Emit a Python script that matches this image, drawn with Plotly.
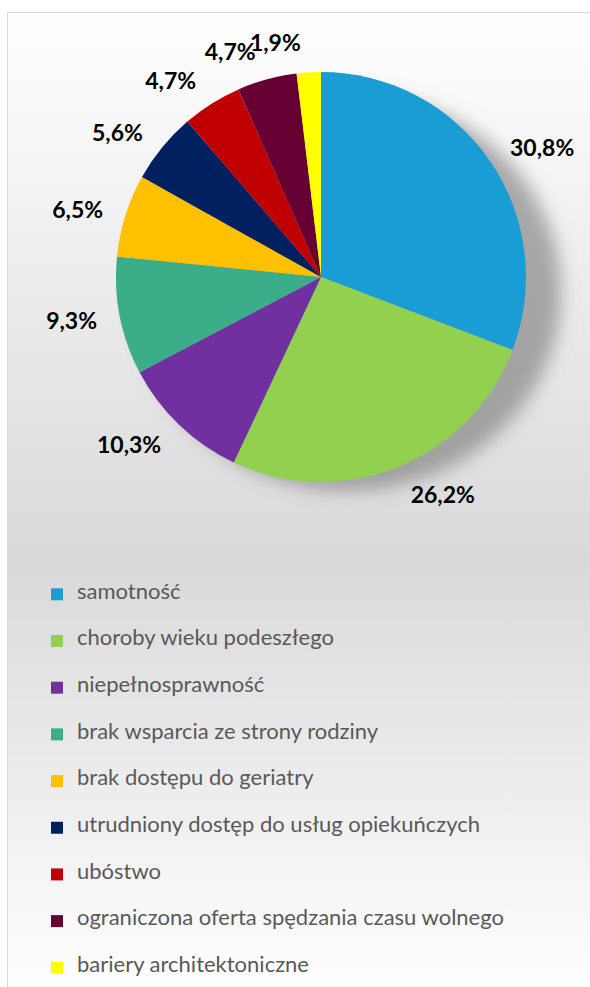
import base64
import plotly.graph_objects as go

# data (share of answers, %)
labels = ["samotność", "choroby wieku podeszłego", "niepełnosprawność",
          "brak wsparcia ze strony rodziny", "brak dostępu do geriatry",
          "utrudniony dostęp do usług opiekuńczych", "ubóstwo",
          "ograniczona oferta spędzania czasu wolnego", "bariery architektoniczne"]
values = [30.8, 26.2, 10.3, 9.3, 6.5, 5.6, 4.7, 4.7, 1.9]
colors = ["#1A9DD4", "#92D050", "#7030A0", "#3CAD89", "#FFC000",
          "#002060", "#C00000", "#660033", "#FFFF00"]

W, H = 590, 987
cx, cy, r = 321, 277, 205   # pie centre / radius in px
r_lab = r + 16              # radius of the invisible pies carrying the labels

# % labels are split over a few invisible pies so plotly does not stack
# the small top slices' labels on each other (and draw leader lines)
label_groups = [[0, 1, 2, 3, 4, 5, 7], [6, 8]]
pct = [f"{v:.1f}%".replace(".", ",") for v in values]

# legend entries: empty line above and below to open up the row spacing
leg_labels = ['<br><span style="font-size:22px">%s</span><br>' % l for l in labels]

# chart-area background: grey gradient, thin frame and soft pie shadow
fx, fy = 7, 12
svg = f'''<svg xmlns="http://www.w3.org/2000/svg" width="{W-fx}" height="{H-fy}">
<defs>
<linearGradient id="g" x1="0" y1="0" x2="0" y2="1">
<stop offset="0" stop-color="#ffffff"/>
<stop offset="0.56" stop-color="#d9d9d9"/>
<stop offset="1" stop-color="#ffffff"/>
</linearGradient>
<filter id="b" x="-50%" y="-50%" width="200%" height="200%"><feGaussianBlur stdDeviation="9"/></filter>
</defs>
<rect x="0" y="0" width="{W-fx+5}" height="{H-fy+5}" fill="url(#g)" stroke="#d9d9d9" stroke-width="2"/>
<ellipse cx="{cx-fx+27}" cy="{cy-fy+15}" rx="{r+8}" ry="{r-6}" fill="#777777" fill-opacity="0.6" filter="url(#b)"/>
</svg>'''
bg = "data:image/svg+xml;base64," + base64.b64encode(svg.encode("utf-8")).decode()


def dom(rad):
    return dict(x=[(cx - rad) / W, (cx + rad) / W],
                y=[1 - (cy + rad) / H, 1 - (cy - rad) / H])


fig = go.Figure()
fig.add_trace(go.Pie(
    labels=leg_labels,
    values=values,
    sort=False,
    direction="clockwise",
    rotation=0,
    marker=dict(colors=colors, line=dict(width=0)),
    textinfo="none",
    hovertemplate="%{value:.1f}%<extra></extra>",
    domain=dom(r),
))
for grp in label_groups:
    fig.add_trace(go.Pie(
        labels=labels,
        values=values,
        sort=False,
        direction="clockwise",
        rotation=0,
        marker=dict(colors=["rgba(0,0,0,0)"] * len(values), line=dict(width=0)),
        text=[pct[i] if i in grp else "" for i in range(len(values))],
        textinfo="text",
        textposition="outside",
        outsidetextfont=dict(family="Lato", size=23, color="#000000", weight="bold"),
        hoverinfo="skip",
        showlegend=False,
        domain=dom(r_lab),
    ))

fig.update_layout(
    width=W, height=H,
    margin=dict(l=0, r=0, t=0, b=0, autoexpand=False),
    paper_bgcolor="#ffffff",
    separators=", ",
    showlegend=True,
    legend=dict(x=37 / W, xanchor="left", y=1 - 566 / H, yanchor="top",
                font=dict(family="Lato", size=11.2, color="#595959"),
                bgcolor="rgba(0,0,0,0)"),
    images=[dict(source=bg, xref="paper", yref="paper",
                 x=fx / W, y=1 - fy / H, sizex=(W - fx) / W, sizey=(H - fy) / H,
                 xanchor="left", yanchor="top", sizing="stretch", layer="below")],
)

fig.write_html("out.html", config={"displayModeBar": False},
               post_script="document.body.style.margin='0';document.body.style.overflow='hidden';")
